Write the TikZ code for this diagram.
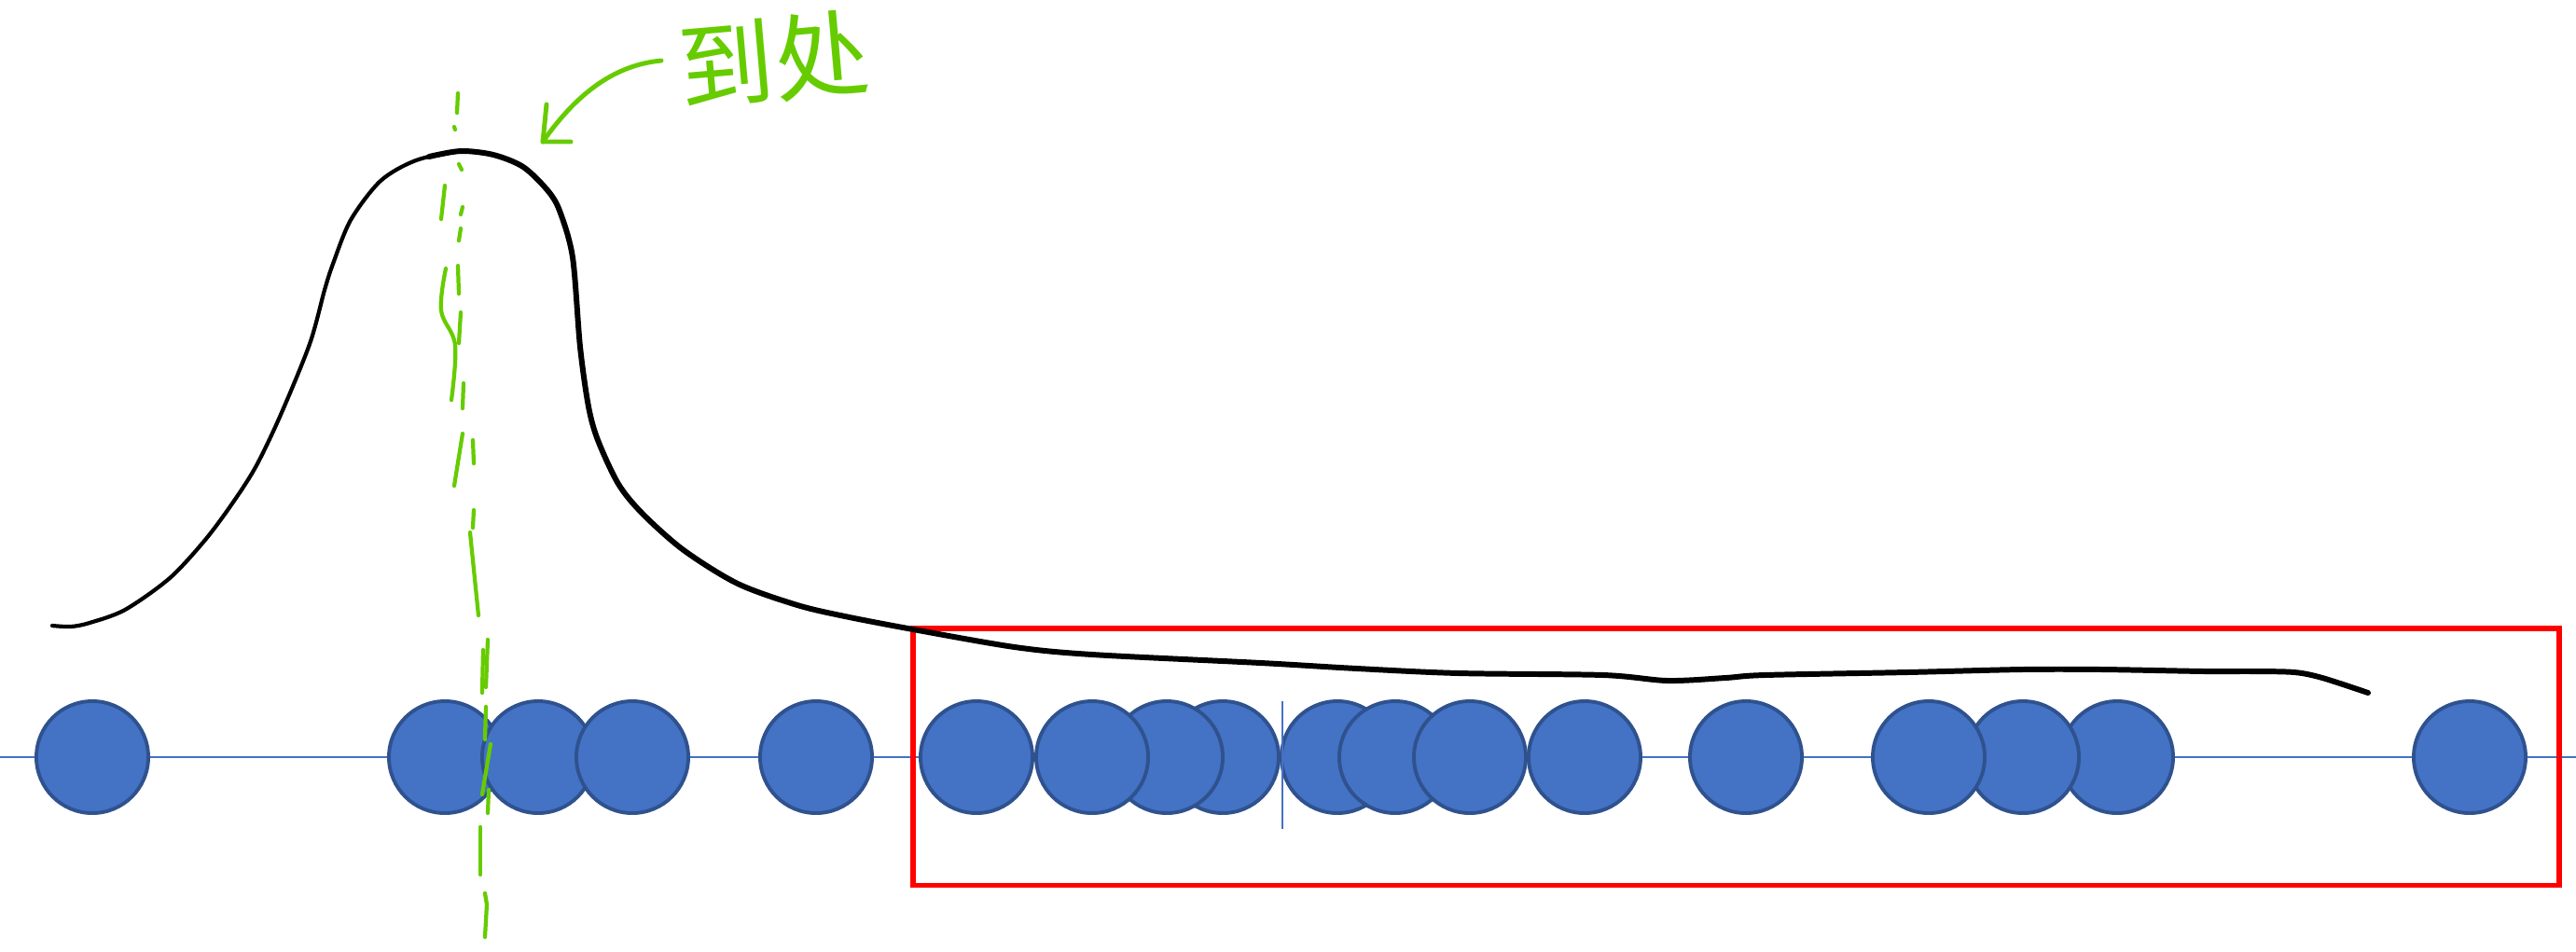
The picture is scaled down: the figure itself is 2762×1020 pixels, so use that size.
\documentclass[tikz,border=0pt]{standalone}
\usepackage{fontspec}
\newfontfamily\cjk{Noto Sans CJK SC}
\definecolor{ppblue}{HTML}{4472C4}
\definecolor{ppedge}{HTML}{2F528F}
\definecolor{hgreen}{RGB}{102,204,0}
\begin{document}
\begin{tikzpicture}[x=0.01cm,y=-0.01cm,
  particle/.style={circle, fill=ppblue, draw=ppedge, line width=1.1pt, minimum size=1.2cm, inner sep=0pt},
  axisline/.style={ppblue, line width=0.6pt},
  curveline/.style={black, line cap=round, line join=round},
  ink/.style={hgreen, line width=1.2pt, line cap=round, line join=round},
  tailbox/.style={draw=red, line width=1.5pt, inner sep=0pt, outer sep=0pt},
  notetext/.style={text=hgreen, font=\cjk\fontsize{29}{29}\selectfont, inner sep=0pt}]
\useasboundingbox[fill=white] (0,0) rectangle (2762,1020);

% axis
\coordinate (axL) at (0,812);
\coordinate (axR) at (2762,812);
\draw[axisline] (axL) -- (axR);

% particles
\node[particle] (c1) at (99,812) {};
\node[particle] (c2) at (477,812) {};
\node[particle] (c3) at (577,812) {};
\node[particle] (c4) at (678,812) {};
\node[particle] (c5) at (875,812) {};
\node[particle] (c6) at (1047,812) {};
\node[particle] (c9) at (1311,812) {};
\node[particle] (c8) at (1251,812) {};
\node[particle] (c7) at (1171,812) {};
\node[particle] (c10) at (1434,812) {};
\node[particle] (c11) at (1496,812) {};
\node[particle] (c12) at (1576,812) {};
\node[particle] (c13) at (1699,812) {};
\node[particle] (c14) at (1872,812) {};
\node[particle] (c17) at (2270,812) {};
\node[particle] (c16) at (2169,812) {};
\node[particle] (c15) at (2068,812) {};
\node[particle] (c18) at (2648,812) {};

% small vertical marker
\coordinate (vmT) at (1375,752);
\coordinate (vmB) at (1375,889);
\draw[ppblue, line width=0.5pt] (vmT) -- (vmB);

% red box around the tail
\node[tailbox, minimum width=17.64cm, minimum height=2.75cm, anchor=north west] (tail) at (979,674) {};

% density curve
\draw[curveline, line width=1.2pt] plot[smooth, tension=0.5] coordinates {
 (56,671) (76,672) (96,668) (134,654) (182,620) (220,579) (249,540) (274,501)
 (300,447) (332,369) (348,311) (357,283) (376,236) (408,194) (446,172) (494,162) (529,166)};
\draw[curveline, line width=1.7pt] plot[smooth, tension=0.5] coordinates {
 (460,168) (494,162) (529,166) (561,179) (587,204) (600,226) (614,276) (622,372) (631,436)
 (641,472) (663,519) (689,551) (733,590) (791,626) (855,649) (906,661) (979,675)
 (1088,694) (1171,702) (1352,711) (1455,717) (1564,722) (1719,724) (1788,730)
 (1850,727) (1892,724) (2045,721) (2168,718) (2254,718) (2364,720) (2414,720)
 (2460,721) (2490,727) (2539,743)};

% hand-drawn dashed mean line
\draw[ink] (491,100) -- (490,121);
\draw[ink] (487,136) -- (488,139);
\draw[ink] (492,176) -- (495,182);
\draw[ink] (477,199) -- (473,235);
\draw[ink] (496,222) -- (494,230);
\draw[ink] (494,245) -- (492,258);
\draw[ink] (491,285) -- (492,315);
\draw[ink] plot[smooth, tension=0.6] coordinates {(478,288) (473,333) (488,370) (484,429)};
\draw[ink] (494,335) -- (492,368);
\draw[ink] (497,411) -- (496,438);
\draw[ink] (496,465) -- (487,521);
\draw[ink] (507,472) -- (508,497);
\draw[ink] (508,547) -- (507,566);
\draw[ink] (504,571) -- (513,660);
\draw[ink] (523,686) -- (521,737);
\draw[ink] (518,697) -- (517,743);
\draw[ink] (521,758) -- (520,793);
\draw[ink] (526,798) -- (517,852);
\draw[ink] (524,847) -- (523,872);
\draw[ink] (515,887) -- (515,938);
\draw[ink] (520,958) -- (522,970) -- (520,1005);

% note and arrow
\node[notetext, rotate=5] (note) at (830,64) {到处};
\coordinate (arrowstart) at (709,65);
\coordinate (arrowtip) at (582,152);
\draw[ink, line width=1.4pt] (arrowstart) .. controls (655,70) and (615,105) .. (arrowtip);
\draw[ink, line width=1.4pt] (586,112) -- (arrowtip) -- (612,152);
\end{tikzpicture}
\end{document}
